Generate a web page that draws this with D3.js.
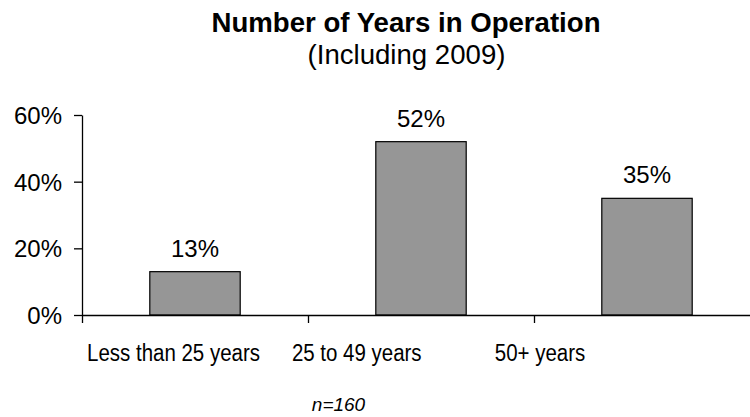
<!DOCTYPE html>
<html lang="en">
  <head>
    <meta charset="UTF-8" />
    <title>Number of Years in Operation</title>
    <style>
  body {
    margin: 0;
    background: #fff;
  }
  svg text {
    font-family: "Liberation Sans", Arial, sans-serif;
    fill: #000;
  }
</style>
  </head>

  <body>

<div class="chart"></div>
  <script src="https://cdn.jsdelivr.net/npm/d3@7/dist/d3.min.js"></script>
    <script>

    // data
    var categories = ["Less than 25 years", "25 to 49 years", "50+ years"];
    var shares = [0.13, 0.52, 0.35];
    var yTicks = [0, 0.2, 0.4, 0.6];
    var sampleNote = "n=160";

    var width = 750;
    var height = 417;

    var margin = {
      top: 115,
      bottom: 102,
      left: 82,
      right: -10,
    };

    var svg = d3.select(".chart")
        .append("svg")
        .attr("width", width)
        .attr("height", height);

    var y = d3.scaleLinear()
        .domain([0, 0.6])
        .range([height - margin.bottom, margin.top]);

    var x = d3.scaleBand()
        .domain(categories)
        .range([margin.left, width - margin.right])
        .paddingInner(0.6)
        .paddingOuter(0.3);

    // category labels sit a bit left of the bars in the original
    var labelX = d3.scalePoint()
        .domain(categories)
        .range([173.5, 540]);

    // boundaries between the categories, for the x ticks
    var edge = d3.scaleLinear()
        .domain([0, categories.length])
        .range([margin.left, width - margin.right]);

    // title
    svg.append("text")
        .attr("x", 406)
        .attr("y", 32)
        .attr("text-anchor", "middle")
        .style("font-size", "27.6px")
        .style("font-weight", "bold")
        .text("Number of Years in Operation");

    svg.append("text")
        .attr("x", 406.5)
        .attr("y", 64)
        .attr("text-anchor", "middle")
        .style("font-size", "27.6px")
        .text("(Including 2009)");

    // bars
    svg.append("g")
        .selectAll("rect")
        .data(shares)
        .enter()
        .append("rect")
        .attr("x", function(d, i){ return x(categories[i]); })
        .attr("y", function(d){ return y(d); })
        .attr("width", x.bandwidth())
        .attr("height", function(d){ return y(0) - y(d); })
        .attr("fill", "#969696")
        .attr("stroke", "#000")
        .attr("stroke-width", 1.2);

    // value labels
    svg.append("g")
        .selectAll("text")
        .data(shares)
        .enter()
        .append("text")
        .attr("x", function(d, i){ return x(categories[i]) + x.bandwidth()/2; })
        .attr("y", function(d){ return y(d) - 15; })
        .attr("text-anchor", "middle")
        .style("font-size", "24px")
        .text(function(d){ return d3.format(".0%")(d); });

    // y axis
    var yAxis = svg.append("g")
        .attr("transform", "translate(" + margin.left + ",0)")
        .call(d3.axisLeft(y)
          .tickValues(yTicks)
          .tickFormat(d3.format(".0%"))
          .tickSize(8)
          .tickSizeOuter(0)
          .tickPadding(12));
    yAxis.selectAll("text")
        .style("font-size", "24px")
        .attr("dy", "0.36em");

    // x axis, ticks between categories
    var xAxis = svg.append("g")
        .attr("transform", "translate(0," + y(0) + ")")
        .call(d3.axisBottom(edge)
          .tickValues(d3.range(categories.length + 1))
          .tickFormat("")
          .tickSize(8)
          .tickSizeOuter(0));

    svg.selectAll(".domain, .tick line")
        .attr("stroke", "#000")
        .attr("stroke-width", 1.3);

    // category labels, a little condensed like the original
    svg.append("g")
        .selectAll("text")
        .data(categories)
        .enter()
        .append("text")
        .attr("transform", function(d){
          return "translate(" + labelX(d) + ",361) scale(0.89,1)";
        })
        .attr("text-anchor", "middle")
        .style("font-size", "23px")
        .text(function(d){ return d; });

    svg.append("text")
        .attr("x", 338.5)
        .attr("y", 411)
        .attr("text-anchor", "middle")
        .style("font-size", "19px")
        .style("font-style", "italic")
        .text(sampleNote);

    </script>
  </body>
</html>
